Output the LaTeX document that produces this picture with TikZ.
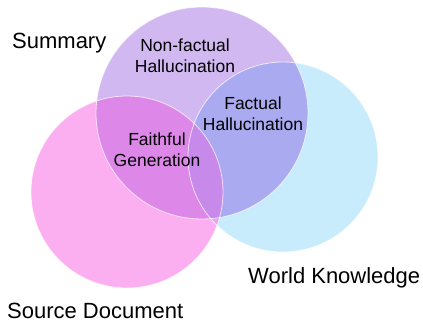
\documentclass[tikz,border=0pt]{standalone}
\usepackage{fontspec}
\setmainfont{Liberation Sans}
\definecolor{cP}{RGB}{210,184,241}
\definecolor{cB}{RGB}{201,236,252}
\definecolor{cS}{RGB}{251,175,241}
\definecolor{cPB}{RGB}{170,170,240}
\definecolor{cPS}{RGB}{221,136,232}
\definecolor{cBS}{RGB}{222,165,240}
\definecolor{cPBS}{RGB}{200,138,234}
\tikzset{
  rim/.style={draw=white, draw opacity=0.7, line width=0.8pt},
  big/.style={font=\fontsize{22}{26}\selectfont, inner sep=0pt},
  small/.style={font=\fontsize{17.5}{21}\selectfont, inner sep=0pt, align=center}
}
\begin{document}
\begin{tikzpicture}[x=1pt,y=-1pt]
\useasboundingbox (0,0) rectangle (423,324);
\def\circP{(202,113) circle (106pt)}
\def\circB{(283,157) circle (95pt)}
\def\circS{(127,192) circle (96pt)}
\fill[cP] \circP;
\fill[cB] \circB;
\fill[cS] \circS;
\begin{scope}\clip \circP; \fill[cPB] \circB; \end{scope}
\begin{scope}\clip \circP; \fill[cPS] \circS; \end{scope}
\begin{scope}\clip \circB; \fill[cBS] \circS; \end{scope}
\begin{scope}\clip \circP; \clip \circB; \fill[cPBS] \circS; \end{scope}
\draw[rim] \circP;
\draw[rim] \circB;
\draw[rim] \circS;
\node[big, anchor=base west] (summary) at (12,48) {Summary};
\node[big, anchor=base west] (world) at (248,283) {World Knowledge};
\node[big, anchor=base west] (source) at (7,318) {Source Document};
\node[small] (nonfact) at (185,56) {Non-factual\\Hallucination};
\node[small] (fact) at (253,114) {Factual\\Hallucination};
\node[small] (faith) at (157,150) {Faithful\\Generation};
\end{tikzpicture}
\end{document}
